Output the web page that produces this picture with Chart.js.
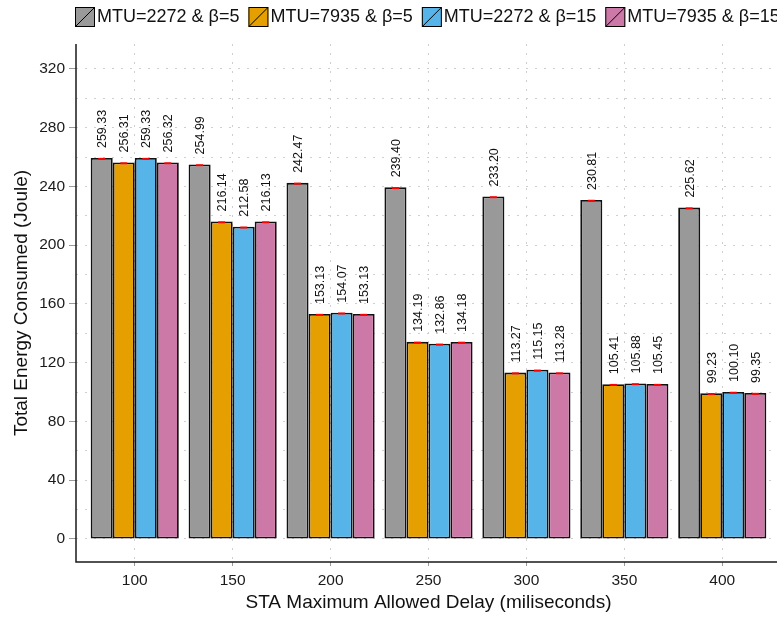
<!DOCTYPE html>
<html>
<head>
<meta charset="utf-8">
<script src="https://cdn.jsdelivr.net/npm/chart.js@4/dist/chart.umd.min.js"></script>
<style>
  html, body { margin: 0; padding: 0; background: #fff; overflow: hidden; }
  #caja { width: 790px; height: 617px; }
</style>
</head>
<body>
<div id="caja"><canvas id="grafica" width="790" height="617"></canvas></div>
<script>
// retardo maximo permitido (ms)
const retardos = [100, 150, 200, 250, 300, 350, 400];

const series = ['MTU=2272 & β=5', 'MTU=7935 & β=5', 'MTU=2272 & β=15', 'MTU=7935 & β=15'];
const energiaMtu2272B5 = [259.33, 254.99, 242.47, 239.40, 233.20, 230.81, 225.62];
const energiaMtu7935B5 = [256.31, 216.14, 153.13, 134.19, 113.27, 105.41, 99.23];
const energiaMtu2272B15 = [259.33, 212.58, 154.07, 132.86, 115.15, 105.88, 100.10];
const energiaMtu7935B15 = [256.32, 216.13, 153.13, 134.18, 113.28, 105.45, 99.35];

const ticksY = [0, 40, 80, 120, 160, 200, 240, 280, 320];

const colores = ['#999999', '#E69F00', '#56B4E9', '#CC79A7'];
const fuente = '"Liberation Sans", Arial, sans-serif';
const punteado = '#cfcfcf';

const valores = [energiaMtu2272B5, energiaMtu7935B5, energiaMtu2272B15, energiaMtu7935B15];

// etiquetas, barras de error, ejes y leyenda
const decoracion = {
  id: 'decoracion',
  afterDatasetsDraw(chart) {
    const ctx = chart.ctx;
    chart.data.datasets.forEach((ds, i) => {
      const meta = chart.getDatasetMeta(i);
      meta.data.forEach((bar, j) => {
        ctx.save();
        ctx.strokeStyle = '#ff0000';
        ctx.lineWidth = 2;
        ctx.beginPath();
        ctx.moveTo(bar.x - 3.5, bar.y + 0.8);
        ctx.lineTo(bar.x + 3.5, bar.y + 0.8);
        ctx.stroke();

        ctx.translate(bar.x + 1, bar.y - 10);
        ctx.rotate(-Math.PI / 2);
        ctx.font = '12.5px ' + fuente;
        ctx.fillStyle = '#111';
        ctx.textAlign = 'left';
        ctx.textBaseline = 'middle';
        ctx.fillText(ds.data[j].toFixed(2), 0, 0);
        ctx.restore();
      });
    });
  },
  afterDraw(chart) {
    const ctx = chart.ctx;
    const area = chart.chartArea;
    ctx.save();
    ctx.strokeStyle = '#1a1a1a';
    ctx.lineWidth = 1.5;
    ctx.beginPath();
    ctx.moveTo(area.left, area.top);
    ctx.lineTo(area.left, area.bottom);
    ctx.lineTo(area.right, area.bottom);
    ctx.stroke();

    // leyenda arriba
    ctx.font = '18px ' + fuente;
    ctx.textBaseline = 'middle';
    ctx.textAlign = 'left';
    let x = 75;
    chart.data.datasets.forEach(ds => {
      ctx.fillStyle = ds.backgroundColor;
      ctx.fillRect(x, 7, 20, 20);
      ctx.strokeStyle = '#000';
      ctx.lineWidth = 1;
      ctx.strokeRect(x + 0.5, 7.5, 19, 19);
      ctx.beginPath();
      ctx.moveTo(x + 1, 26);
      ctx.lineTo(x + 19, 8);
      ctx.stroke();
      ctx.fillStyle = '#111';
      ctx.fillText(ds.label, x + 22, 17.5);
      x += 22 + ctx.measureText(ds.label).width + 9;
    });
    ctx.restore();
  }
};

new Chart(document.getElementById('grafica'), {
  type: 'bar',
  data: {
    labels: retardos,
    datasets: series.map((s, i) => ({
      label: s,
      data: valores[i],
      backgroundColor: colores[i],
      borderColor: '#111',
      borderWidth: 1.8,
      borderSkipped: false,
      categoryPercentage: 0.9,
      barPercentage: 1
    }))
  },
  options: {
    responsive: false,
    animation: false,
    devicePixelRatio: 1,
    layout: { padding: { top: 44, right: 9, left: 0, bottom: 0 } },
    plugins: {
      legend: { display: false },
      tooltip: { enabled: false }
    },
    scales: {
      x: {
        type: 'linear',
        min: 70,
        max: 430,
        offset: false,
        afterBuildTicks: s => { s.ticks = retardos.map(v => ({ value: v })); },
        afterFit: s => { s.height = 55; },
        ticks: {
          includeBounds: false,
          padding: 5,
          color: '#1a1a1a',
          font: { family: fuente, size: 15.5 },
          callback: v => String(v)
        },
        grid: {
          offset: false,
          color: punteado,
          lineWidth: 1,
          tickLength: 4,
          tickColor: '#999'
        },
        border: { display: false, dash: [2, 7] },
        title: {
          display: true,
          text: 'STA Maximum Allowed Delay (miliseconds)',
          color: '#111',
          font: { family: fuente, size: 19 },
          padding: { top: 0, bottom: 3 }
        }
      },
      y: {
        min: -15.7,
        max: 337,
        afterBuildTicks: s => {
          const todos = [];
          for (let v = 0; v <= 320; v += 20) todos.push({ value: v });
          s.ticks = todos;
        },
        afterFit: s => { s.width = 76; },
        ticks: {
          padding: 4,
          color: '#1a1a1a',
          font: { family: fuente, size: 15.5 },
          callback: v => (ticksY.includes(v) ? String(v) : '')
        },
        grid: {
          color: punteado,
          lineWidth: 1,
          tickLength: 7,
          tickColor: c => (ticksY.includes(c.tick.value) ? '#999' : 'rgba(0,0,0,0)')
        },
        border: { display: false, dash: [2, 7] },
        title: {
          display: true,
          text: 'Total Energy Consumed (Joule)',
          color: '#111',
          font: { family: fuente, size: 19 },
          padding: { top: 10, bottom: 0 }
        }
      }
    }
  },
  plugins: [decoracion]
});
</script>
</body>
</html>
